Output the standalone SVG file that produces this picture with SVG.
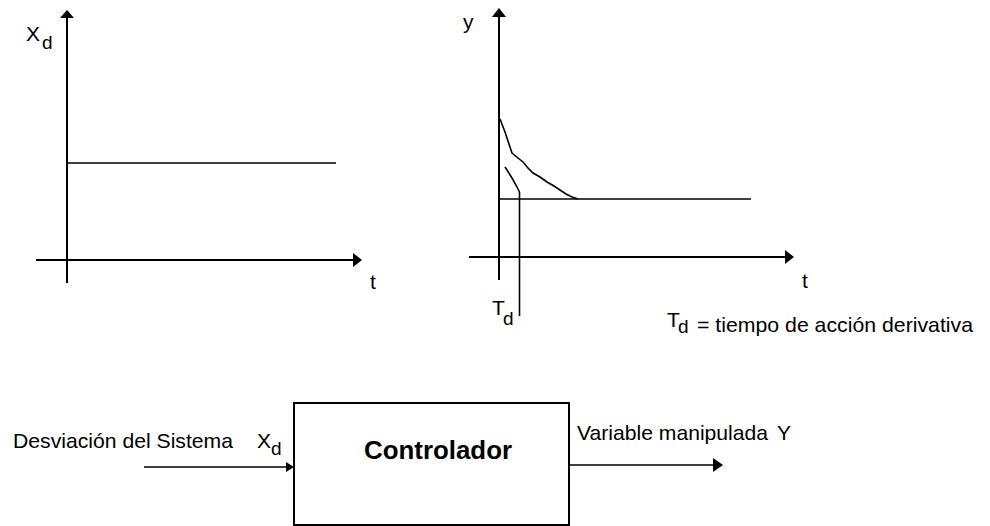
<svg xmlns="http://www.w3.org/2000/svg" width="990" height="526" viewBox="0 0 990 526">
<style>
.ax{stroke:#000;stroke-width:2;fill:none}
.ln{stroke:#000;stroke-width:1.6;fill:none}
.ah{fill:#000}
.t{font-family:"Liberation Sans",Arial,sans-serif;font-size:21px;fill:#000}
.s{font-family:"Liberation Sans",Arial,sans-serif;font-size:19px;fill:#000}
.b{font-family:"Liberation Sans",Arial,sans-serif;font-size:26px;font-weight:bold;fill:#000}
</style>
<rect width="990" height="526" fill="#fff"/>
<g id="graph-xd">
  <line class="ax" x1="67" y1="16" x2="67" y2="283"/>
  <polygon class="ah" points="67,10 60,18 74,18"/>
  <line class="ax" x1="36" y1="260" x2="354" y2="260"/>
  <polygon class="ah" points="362,260 353,253 353,267"/>
  <line class="ln" x1="67" y1="163" x2="336" y2="163"/>
  <text class="t" x="26" y="41">X</text><text class="s" x="42" y="49">d</text>
  <text class="t" x="370" y="289">t</text>
</g>
<g id="graph-y">
  <line class="ax" x1="499" y1="14" x2="499" y2="280"/>
  <polygon class="ah" points="499,8 492,17 506,17"/>
  <line class="ax" x1="469" y1="257" x2="786" y2="257"/>
  <polygon class="ah" points="794,257 785,250 785,264"/>
  <line class="ln" x1="499" y1="199" x2="751" y2="199"/>
  <polyline class="ln" points="500,119 505,132 509,144 512,153 518,158 523,162 528,168 533,173 540,177 547,182 554,186 560,190 566,194 572,197 578,199"/>
  <polyline class="ln" points="505,167 512,178 517,187 519.5,192"/>
  <line class="ln" x1="519.5" y1="192" x2="519.5" y2="316"/>
  <text class="t" x="463" y="29">y</text>
  <text class="t" x="802" y="288">t</text>
  <text class="t" x="492" y="315">T</text><text class="s" x="503" y="325">d</text>
  <text class="t" x="667" y="327">T</text><text class="s" x="678" y="333">d</text>
  <text class="t" x="697" y="332" textLength="276" lengthAdjust="spacingAndGlyphs">= tiempo de acción derivativa</text>
</g>
<g id="controlador">
  <rect x="294" y="403" width="275" height="122" fill="#fff" stroke="#000" stroke-width="2"/>
  <text class="b" x="364" y="459" textLength="148" lengthAdjust="spacingAndGlyphs">Controlador</text>
</g>
<g id="connectors">
  <line class="ln" x1="144" y1="467" x2="288" y2="467"/>
  <polygon class="ah" points="294,467 286,462 286,472"/>
  <line class="ln" x1="570" y1="465" x2="714" y2="465"/>
  <polygon class="ah" points="723,465 713,458 713,472"/>
  <text class="t" x="13" y="448" textLength="220" lengthAdjust="spacingAndGlyphs">Desviación del Sistema</text>
  <text class="t" x="257" y="448">X</text><text class="s" x="271" y="455">d</text>
  <text class="t" x="577" y="440" textLength="191" lengthAdjust="spacingAndGlyphs">Variable manipulada</text>
  <text class="t" x="777" y="440">Y</text>
</g>
</svg>
